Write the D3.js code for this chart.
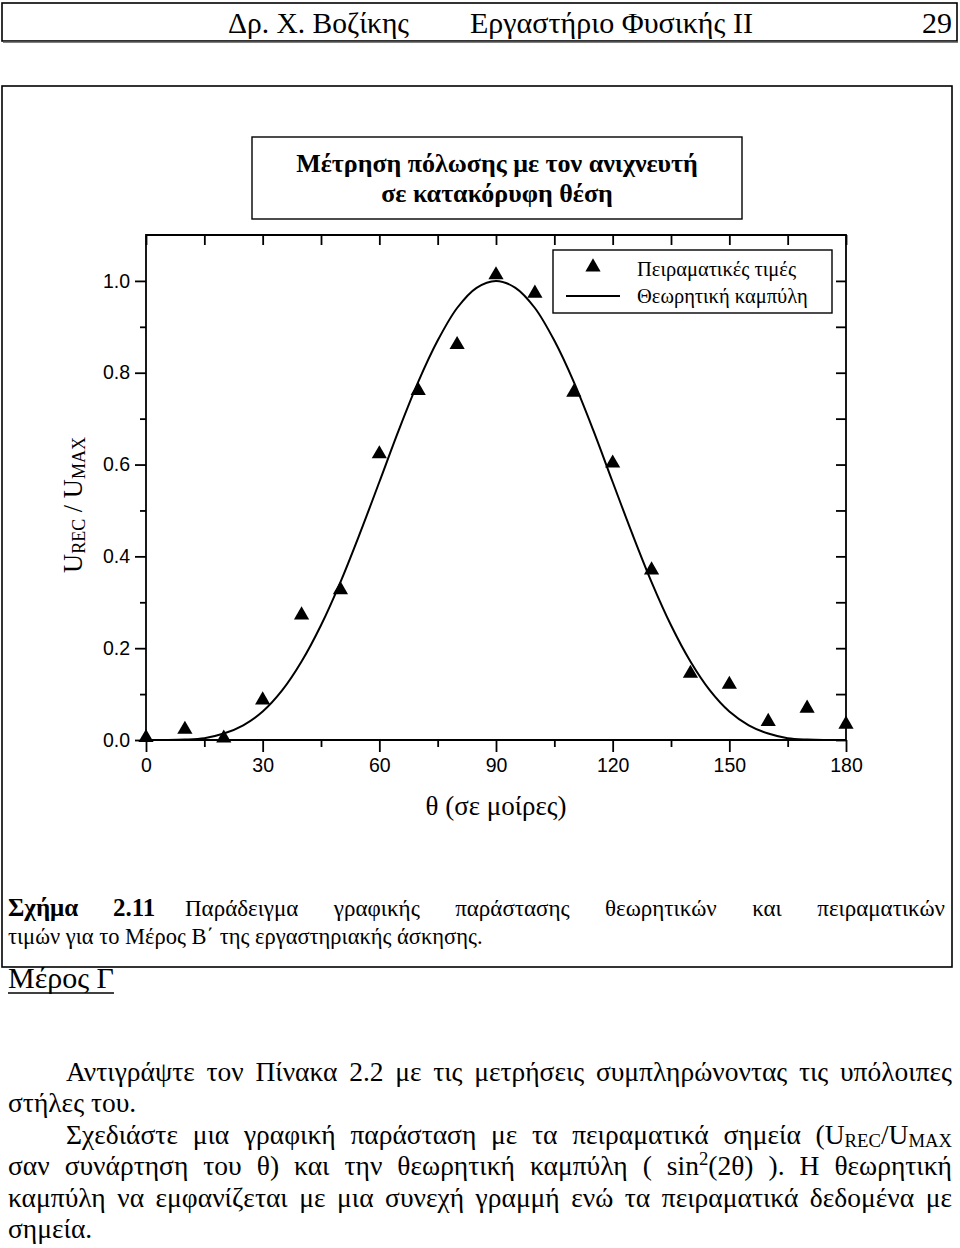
<!DOCTYPE html>
<html><head><meta charset="utf-8">
<script src="https://cdn.jsdelivr.net/npm/d3@7"></script>
<style>body{margin:0;background:#fff} svg{display:block}</style>
</head><body><svg id="c" width="960" height="1248"></svg>
<script>
// ---------- data ----------
const angles = [0,10,20,30,40,50,60,70,80,90,100,110,120,130,140,150,160,170,180];
const measured = [0.005,0.023,0.004,0.087,0.272,0.327,0.623,0.761,0.861,1.013,0.973,0.757,0.603,0.370,0.145,0.121,0.040,0.069,0.034];
const curveAngles = [0,5,10,15,20,25,30,35,40,45,50,55,60,65,70,75,80,85,90,95,100,105,110,115,120,125,130,135,140,145,150,155,160,165,170,175,180];
const curveValues = [0,0.0001,0.001,0.004,0.014,0.032,0.062,0.108,0.171,0.25,0.344,0.450,0.562,0.675,0.780,0.870,0.941,0.985,1.0,0.985,0.941,0.870,0.780,0.675,0.562,0.450,0.344,0.25,0.171,0.108,0.062,0.032,0.014,0.004,0.001,0.0001,0];
const xTicks = [0,30,60,90,120,150,180];
const xMinor = [15,45,75,105,135,165];
const yTicks = [0,0.2,0.4,0.6,0.8,1.0];
const yMinor = [0.1,0.3,0.5,0.7,0.9];
const legendLabels = ["Πειραματικές τιμές","Θεωρητική καμπύλη"];
const titleLines = ["Μέτρηση πόλωσης με τον ανιχνευτή","σε κατακόρυφη θέση"];
const headerTexts = ["Δρ. Χ. Βοζίκης","Εργαστήριο Φυσικής ΙΙ","29"];
const xLabel = "θ (σε μοίρες)";
const yLabel = "U_{REC} / U_{MAX}";
const captionLead = ["Σχήμα","2.11"];
const captionLine1 = "Παράδειγμα γραφικής παράστασης θεωρητικών και πειραματικών";
const captionLine2 = "τιμών για το Μέρος Β΄ της εργαστηριακής άσκησης.";
const sectionTitle = "Μέρος Γ";
const bodyLines = [
  {text:"Αντιγράψτε τον Πίνακα 2.2 με τις μετρήσεις συμπληρώνοντας τις υπόλοιπες", indent:true, justify:true},
  {text:"στήλες του.", indent:false, justify:false},
  {text:"Σχεδιάστε μια γραφική παράσταση με τα πειραματικά σημεία (U_{REC}/U_{MAX}", indent:true, justify:true},
  {text:"σαν συνάρτηση του θ) και την θεωρητική καμπύλη ( sin^{2}(2θ) ). Η θεωρητική", indent:false, justify:true},
  {text:"καμπύλη να εμφανίζεται με μια συνεχή γραμμή ενώ τα πειραματικά δεδομένα με", indent:false, justify:true},
  {text:"σημεία.", indent:false, justify:false}
];

// ---------- helpers ----------
const serif = "'Liberation Serif','Times New Roman',serif";
const sans = "'Liberation Sans',Arial,sans-serif";
const svg = d3.select("#c");

function parseParts(w){
  const re=/([_^])\{([^}]*)\}/g; const parts=[]; let last=0, m;
  while((m=re.exec(w))){ if(m.index>last) parts.push({t:w.slice(last,m.index),s:""});
    parts.push({t:m[2],s:m[1]==="_"?"sub":"sup"}); last=re.lastIndex; }
  if(last<w.length) parts.push({t:w.slice(last),s:""});
  return parts;
}
function makeText(g,str,size,weight){
  const t=g.append("text").attr("font-family",serif).attr("font-size",size)
    .attr("font-weight",weight||"normal").attr("fill","#000");
  let shift=0;
  parseParts(str).forEach(p=>{
    const ts=t.append("tspan").text(p.t);
    const target = p.s==="sub"? size*0.12 : p.s==="sup"? -size*0.38 : 0;
    if(target!==shift){ ts.attr("dy",target-shift); shift=target; }
    if(p.s) ts.attr("font-size",size*0.68);
  });
  return t;
}
function justify(g,str,x0,x1,y,size){
  const words=str.split(" ");
  const els=words.map(w=>makeText(g,w,size).attr("y",y));
  const widths=els.map(e=>e.node().getComputedTextLength());
  const total=d3.sum(widths);
  const gap=(x1-x0-total)/(words.length-1);
  let x=x0;
  els.forEach((e,i)=>{ e.attr("x",x); x+=widths[i]+gap; });
}

// ---------- page frames ----------
svg.append("rect").attr("x",2).attr("y",3).attr("width",955).attr("height",38)
  .attr("fill","none").attr("stroke","#000").attr("stroke-width",1.6);
svg.append("line").attr("x1",3).attr("x2",958).attr("y1",42).attr("y2",42).attr("stroke","#555").attr("stroke-width",1.5);
svg.append("rect").attr("x",2).attr("y",86).attr("width",950).attr("height",881)
  .attr("fill","none").attr("stroke","#000").attr("stroke-width",1.6);

// header
makeText(svg,headerTexts[0],29.5).attr("x",228).attr("y",33);
makeText(svg,headerTexts[1],30).attr("x",470).attr("y",33);
makeText(svg,headerTexts[2],30).attr("x",952).attr("y",33).attr("text-anchor","end");

// ---------- chart ----------
const x=d3.scaleLinear().domain([0,180]).range([146,846]);
const y=d3.scaleLinear().domain([0,1.1]).range([740,235]);
const axW=1.8;

// title box
svg.append("rect").attr("x",252).attr("y",137).attr("width",490).attr("height",82)
  .attr("fill","none").attr("stroke","#000").attr("stroke-width",1.4);
titleLines.forEach((t,i)=>makeText(svg,t,26,"bold").attr("x",497).attr("y",172+i*30).attr("text-anchor","middle"));

// axes
const gL=svg.append("g").attr("transform",`translate(${x(0)},0)`)
  .call(d3.axisLeft(y).tickValues(yTicks).tickSize(11).tickPadding(5).tickFormat(d3.format(".1f")));
const gLm=svg.append("g").attr("transform",`translate(${x(0)},0)`)
  .call(d3.axisLeft(y).tickValues(yMinor).tickSize(6).tickFormat(""));
const gB=svg.append("g").attr("transform",`translate(0,${y(0)})`)
  .call(d3.axisBottom(x).tickValues(xTicks).tickSize(12).tickPadding(6));
const gBm=svg.append("g").attr("transform",`translate(0,${y(0)})`)
  .call(d3.axisBottom(x).tickValues(xMinor).tickSize(7).tickFormat(""));
const gT=svg.append("g").attr("transform",`translate(0,${y(1.1)})`)
  .call(d3.axisBottom(x).tickValues(xTicks.concat(xMinor)).tickSize(10).tickFormat(""));
const gR=svg.append("g").attr("transform",`translate(${x(180)},0)`)
  .call(d3.axisLeft(y).tickValues(yTicks.concat(yMinor)).tickSize(10).tickFormat(""));
[gL,gLm,gB,gBm,gT,gR].forEach(g=>{
  g.select("path.domain").remove();
  g.selectAll(".tick line").attr("stroke","#000").attr("stroke-width",axW);
  g.selectAll("text").attr("font-family",sans).attr("font-size",19.5).attr("fill","#000");
});
// frame
svg.append("path").attr("fill","none").attr("stroke","#000").attr("stroke-width",axW)
  .attr("d",`M${x(0)},${y(0)}V${y(1.1)}H${x(180)}V${y(0)}H${x(0)}`);

// theoretical curve
svg.append("path").datum(curveAngles.map((a,i)=>[a,curveValues[i]]))
  .attr("fill","none").attr("stroke","#000").attr("stroke-width",2)
  .attr("d",d3.line().x(d=>x(d[0])).y(d=>y(d[1])).curve(d3.curveCatmullRom));

// measured points
const tri=d3.symbol().type(d3.symbolTriangle).size(100);
svg.append("g").selectAll("path").data(angles.map((a,i)=>[a,measured[i]])).join("path")
  .attr("d",tri).attr("transform",d=>`translate(${x(d[0])},${y(d[1])})`).attr("fill","#000");

// legend
svg.append("rect").attr("x",553).attr("y",250).attr("width",279).attr("height",63)
  .attr("fill","#fff").attr("stroke","#000").attr("stroke-width",1.4);
svg.append("path").attr("d",tri).attr("transform","translate(593,267)").attr("fill","#000");
svg.append("line").attr("x1",566).attr("x2",620).attr("y1",296).attr("y2",296).attr("stroke","#000").attr("stroke-width",2);
makeText(svg,legendLabels[0],20.5).attr("x",637).attr("y",276);
makeText(svg,legendLabels[1],20.5).attr("x",637).attr("y",303);

// axis labels
makeText(svg,xLabel,27).attr("x",496).attr("y",815).attr("text-anchor","middle");
makeText(svg,yLabel,26.5).attr("text-anchor","middle")
  .attr("transform","translate(82,505) rotate(-90)");

// caption
makeText(svg,captionLead[0],25,"bold").attr("x",8).attr("y",916);
makeText(svg,captionLead[1],25,"bold").attr("x",113).attr("y",916);
justify(svg,captionLine1,185,945,916,23);
makeText(svg,captionLine2,22.5).attr("x",8).attr("y",944);

// section title
const st=makeText(svg,sectionTitle,30).attr("x",8).attr("y",988);
const stw=st.node().getComputedTextLength();
svg.append("line").attr("x1",8).attr("x2",8+stw).attr("y1",993).attr("y2",993).attr("stroke","#000").attr("stroke-width",1.3);

// body
bodyLines.forEach((l,i)=>{
  const by=1081+i*31.4, x0=l.indent?66:8;
  if(l.justify) justify(svg,l.text,x0,952,by,27.5);
  else makeText(svg,l.text,27.5).attr("x",x0).attr("y",by);
});
</script></body></html>
